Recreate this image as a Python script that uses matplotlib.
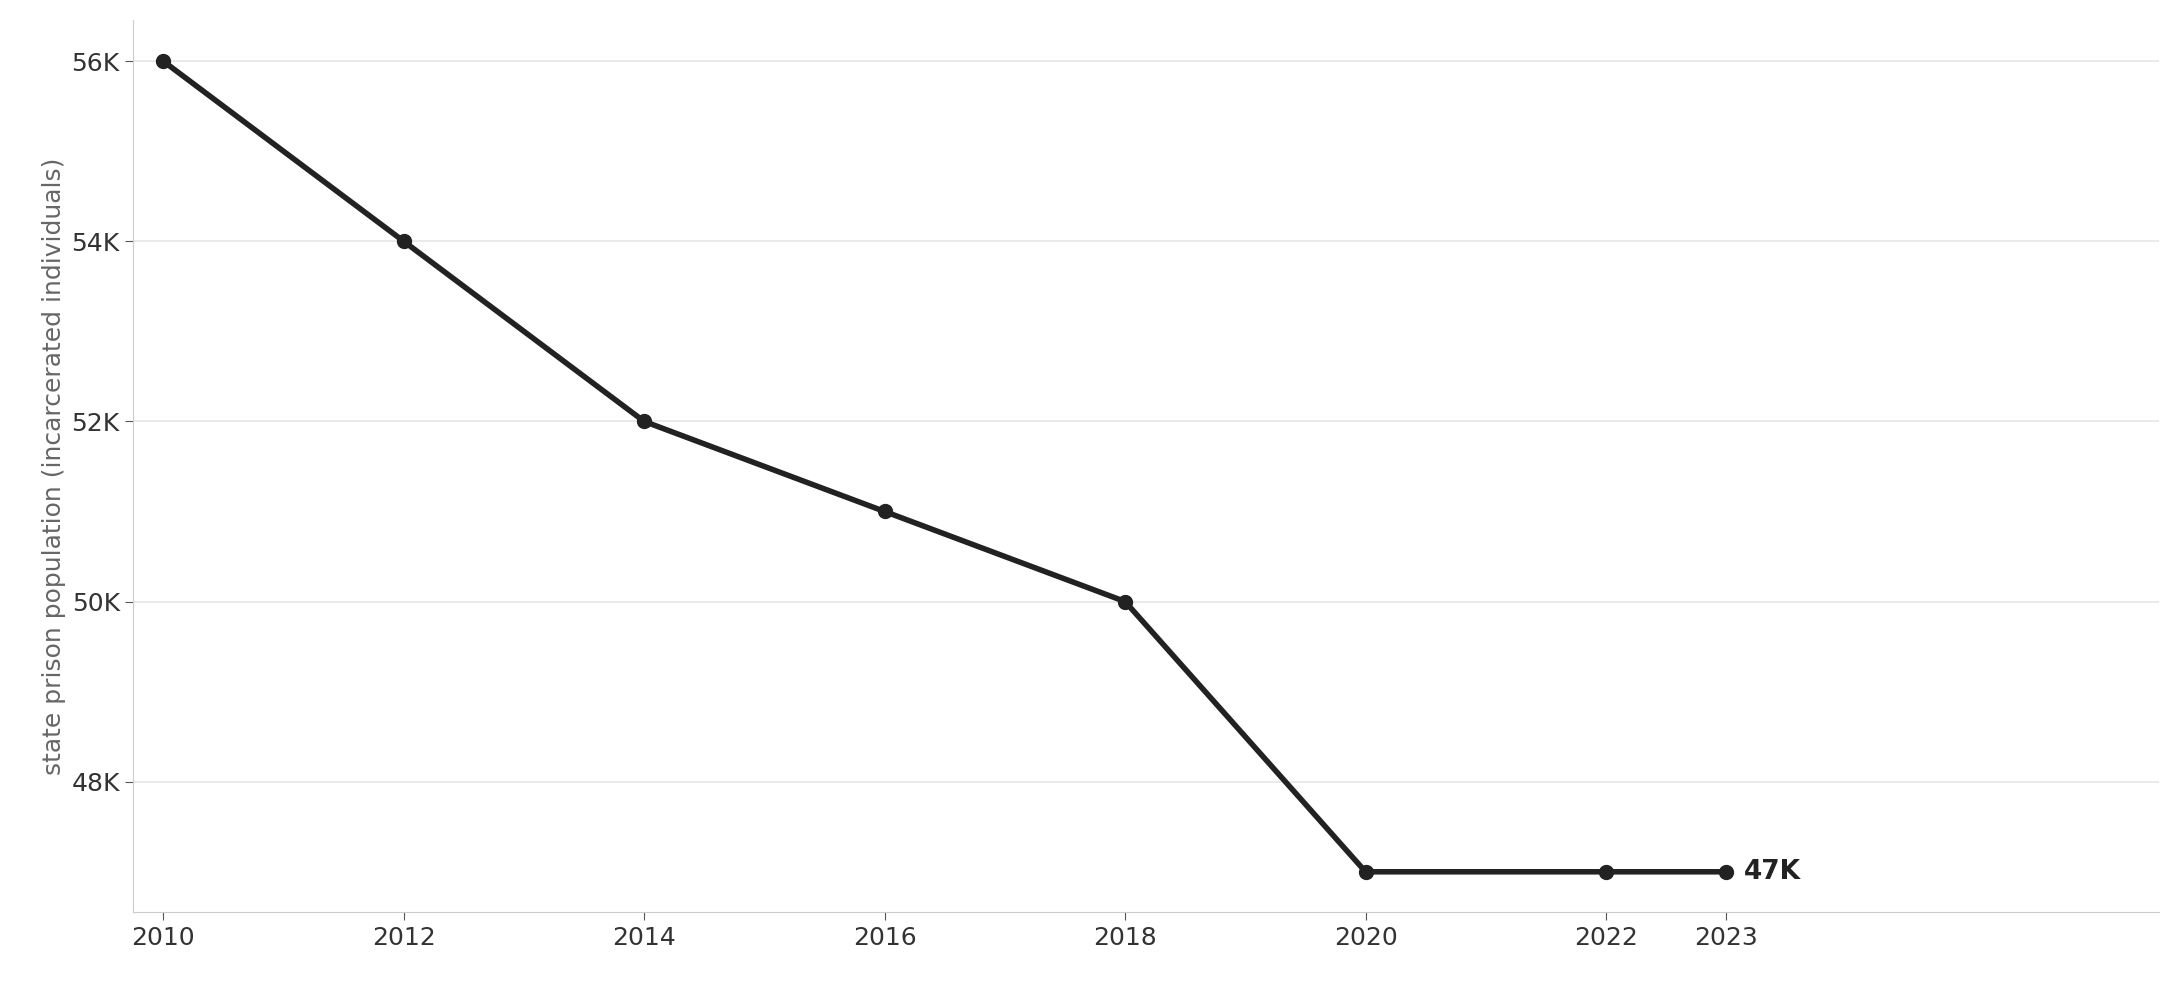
import matplotlib.pyplot as plt
from matplotlib.ticker import FuncFormatter

years = [2010, 2012, 2014, 2016, 2018, 2020, 2022, 2023]
population = [56000, 54000, 52000, 51000, 50000, 47000, 47000, 47000]
y_ticks = [48000, 50000, 52000, 54000, 56000]

fig, ax = plt.subplots(figsize=(21.81, 9.81), dpi=100)
ax.plot(years, population, color='#222222', linewidth=4, marker='o', markersize=10)
ax.text(years[-1] + 0.15, population[-1], '47K', fontsize=19, fontweight='bold',
        color='#222222', va='center', ha='left')

ax.set_xlim(2009.75, 2026.6)
ax.set_ylim(46550, 56460)
ax.set_xticks(years)
ax.set_yticks(y_ticks)
ax.yaxis.set_major_formatter(FuncFormatter(lambda v, p: f'{v/1000:.0f}K'))
ax.tick_params(labelsize=18, colors='#333333', length=6)
ax.tick_params(axis='both', color='#555555')
ax.set_ylabel('state prison population (incarcerated individuals)', fontsize=18, color='#666666')
ax.grid(axis='y', color='#e6e6e6', linewidth=1.2)
ax.set_axisbelow(True)
for s in ['top', 'right']:
    ax.spines[s].set_visible(False)
for s in ['left', 'bottom']:
    ax.spines[s].set_color('#cccccc')

plt.subplots_adjust(left=0.061, right=0.99, top=0.98, bottom=0.07)
plt.savefig('out.png')
plt.close()
